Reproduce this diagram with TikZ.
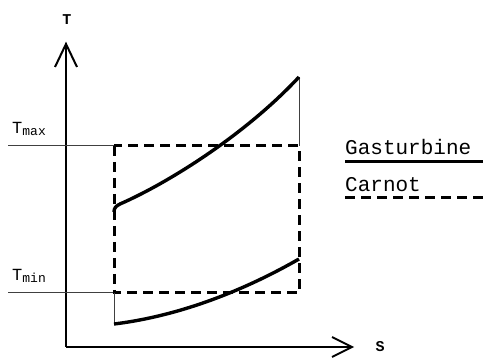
\documentclass[tikz,border=0pt]{standalone}
\usepackage{fontspec}
\setmainfont{Liberation Mono}
\begin{document}
\begin{tikzpicture}[x=1pt,y=-1pt,
  axis/.style={line width=2pt},
  thin/.style={line width=1pt, black!75},
  curve/.style={line width=3.4pt, line join=round},
  carnot/.style={line width=3pt, dash pattern=on 10pt off 6pt},
  lbl/.style={inner sep=0pt, anchor=base west},
  axlbl/.style={inner sep=0pt, font=\fontsize{15}{15}\selectfont\bfseries}]
\useasboundingbox (0,0) rectangle (483,358);
% axes
\coordinate (O) at (66,347);
\coordinate (Ytip) at (66,44);
\coordinate (Xtip) at (352,347);
\draw[axis] (O) -- (Ytip);
\draw[axis] (O) -- (Xtip);
\draw[axis] (55,67) -- (Ytip) -- (77,67);
\draw[axis] (332,337) -- (Xtip) -- (332,357);
\node[axlbl] (T) at (67,20) {T};
\node[axlbl] (S) at (380,347) {S};
% Tmax/Tmin reference lines
\draw[thin] (8,146) -- (114,146);
\draw[thin] (8,293) -- (114,293);
\node[lbl] (tmax) at (12,134) {\fontsize{17}{17}\selectfont T\raisebox{-2pt}{\fontsize{13}{13}\selectfont max}};
\node[lbl] (tmin) at (12,281) {\fontsize{17}{17}\selectfont T\raisebox{-2pt}{\fontsize{13}{13}\selectfont min}};
% Carnot rectangle
\draw[carnot] (114,146) rectangle (299,293);
% Gas turbine cycle
\draw[thin] (114,293) -- (114,323);
\draw[thin] (299,77) -- (299,146);
\draw[curve] (114,212) .. controls (114,208) and (116,206) .. (120,204)
  .. controls (168,183) and (245,135) .. (299,77);
\draw[curve] (114,324) .. controls (180,316) and (245,290) .. (299,259);
% legend
\node[lbl] (gas) at (345,155) {\fontsize{21}{21}\selectfont Gasturbine};
\draw[line width=3pt] (345,162) -- (483,162);
\node[lbl] (carn) at (345,192) {\fontsize{21}{21}\selectfont Carnot};
\draw[carnot] (345,198) -- (483,198);
\end{tikzpicture}
\end{document}
